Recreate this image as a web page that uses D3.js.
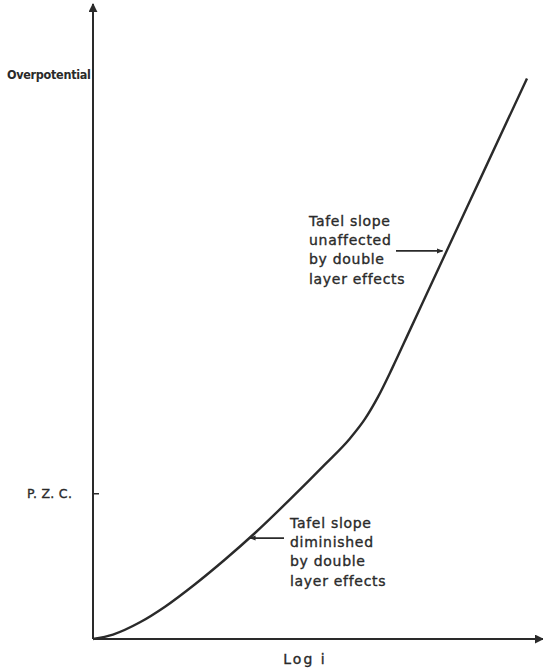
<!DOCTYPE html>
<html><head><meta charset="utf-8">
<script src="https://cdn.jsdelivr.net/npm/d3@7"></script>
<style>html,body{margin:0;padding:0;background:#fff}</style>
</head><body>
<svg id="c" width="543" height="669"></svg>
<script>
// Curve: log i (arbitrary units) vs overpotential (arbitrary units)
const logI = [0, 4.47, 10.51, 16.11, 22.82, 29.53, 36.24, 44.07, 51.90, 57.49, 60.85, 63.76, 66.89, 70.92, 78.75, 86.58, 97.09];
const overpotential = [0, 0.71, 2.65, 5.12, 8.68, 12.60, 16.80, 22.12, 27.67, 31.79, 34.88, 38.37, 42.85, 48.99, 60.92, 72.84, 88.84];
const pzc = 23.1;
const yTickLabels = ["P. Z. C."];
const yAxisTitle = "Overpotential";
const xAxisTitle = "Log i";
const noteUpper = ["Tafel slope", "unaffected", "by double", "layer effects"];
const noteLower = ["Tafel slope", "diminished", "by double", "layer effects"];
const noteUpperAt = [78.2, 61.5];
const noteLowerAt = [35.1, 16.0];

const svg = d3.select("#c");
const ink = "#2a2a2a";
const x = d3.scaleLinear().domain([0, 100]).range([93, 540]);
const y = d3.scaleLinear().domain([0, 100]).range([639, 8]);

const defs = svg.append("defs");
defs.append("marker").attr("id","ah").attr("viewBox","0 0 10 10").attr("refX",9).attr("refY",5)
  .attr("markerWidth",4.5).attr("markerHeight",4.5).attr("orient","auto")
  .append("path").attr("d","M0,0 L10,5 L0,10 z").attr("fill",ink);
defs.append("marker").attr("id","sa").attr("viewBox","0 0 10 10").attr("refX",9).attr("refY",5)
  .attr("markerWidth",3.5).attr("markerHeight",3.5).attr("orient","auto")
  .append("path").attr("d","M0,1 L10,5 L0,9 z").attr("fill",ink);

// Axes
svg.append("line").attr("x1", x(0)).attr("y1", y(0)).attr("x2", x(0)).attr("y2", 4)
  .attr("stroke", ink).attr("stroke-width", 2).attr("marker-end","url(#ah)");
svg.append("line").attr("x1", x(0)).attr("y1", y(0)).attr("x2", 543).attr("y2", y(0))
  .attr("stroke", ink).attr("stroke-width", 2).attr("marker-end","url(#ah)");

// P.Z.C. tick via d3 axis
const yAxis = d3.axisRight(y).tickValues([pzc]).tickSize(6).tickFormat(() => "");
const gy = svg.append("g").attr("transform", `translate(${x(0)},0)`).call(yAxis);
gy.select(".domain").remove();
gy.selectAll(".tick line").attr("stroke", ink).attr("stroke-width", 1.5);

const txt = (sel) => sel.attr("fill", ink).attr("stroke", ink).attr("stroke-width", 0.35);

txt(svg.append("text").attr("x", 27).attr("y", y(pzc)).attr("dy","0.35em")
  .attr("font-family","DejaVu Sans").attr("font-size",12.5)
  .attr("letter-spacing", "0.3").text(yTickLabels[0]));

// Titles
txt(svg.append("text").attr("x", 7).attr("y", 75).attr("dy","0.35em")
  .attr("font-family","DejaVu Sans Condensed, DejaVu Sans").attr("font-weight","bold").attr("font-size",12.5)
  .attr("letter-spacing","-0.3").text(yAxisTitle)).attr("stroke-width", 0);
txt(svg.append("text").attr("x", 305).attr("y", 659).attr("dy","0.35em").attr("text-anchor","middle")
  .attr("font-family","DejaVu Sans").attr("font-size",14)
  .attr("letter-spacing","2").text(xAxisTitle));

// Curve
const pts = logI.map((v,i)=>[v, overpotential[i]]);
svg.append("path").datum(pts)
  .attr("d", d3.line().x(d=>x(d[0])).y(d=>y(d[1])).curve(d3.curveMonotoneX))
  .attr("fill","none").attr("stroke", ink).attr("stroke-width", 2.4);

// Annotations
function note(lines, lx, ly0) {
  const t = txt(svg.append("text").attr("font-family","DejaVu Sans").attr("font-size",14)
    .attr("letter-spacing","0.7"));
  lines.forEach((s,i)=> t.append("tspan").attr("x", lx).attr("y", ly0 + i*19.2).attr("dy","0.35em").text(s));
}
note(noteUpper, 309, 221);
note(noteLower, 290, 523);

svg.append("line").attr("x1", 396).attr("y1", y(noteUpperAt[1])).attr("x2", x(noteUpperAt[0])).attr("y2", y(noteUpperAt[1]))
  .attr("stroke", ink).attr("stroke-width", 1.8).attr("marker-end","url(#sa)");
svg.append("line").attr("x1", 284).attr("y1", y(noteLowerAt[1])).attr("x2", x(noteLowerAt[0])).attr("y2", y(noteLowerAt[1]))
  .attr("stroke", ink).attr("stroke-width", 1.8).attr("marker-end","url(#sa)");
</script>
</body></html>
